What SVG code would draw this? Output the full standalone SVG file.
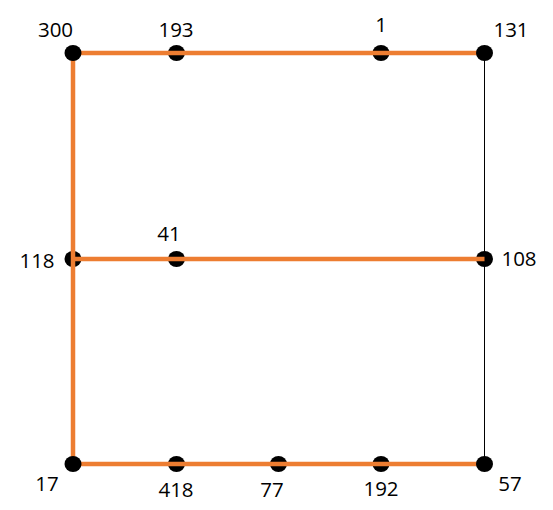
<svg xmlns="http://www.w3.org/2000/svg" width="553" height="510" viewBox="0 0 553 510">
<style>
.n{fill:#000}
.t{font-family:"Open Sans","Liberation Sans",sans-serif;font-size:20.5px;fill:#000;text-anchor:middle}
.o{stroke:#ED7D31;stroke-width:4.5;fill:none}
.k{stroke:#000;stroke-width:1;fill:none}
</style>
<rect width="553" height="510" fill="#fff"/>
<g id="node-193"><ellipse class="n" cx="176.5" cy="53" rx="8.5" ry="8"/><text class="t" x="176" y="37">193</text></g>
<g id="node-1"><ellipse class="n" cx="381" cy="53" rx="8.5" ry="8"/><text class="t" x="381" y="32">1</text></g>
<g id="node-118"><ellipse class="n" cx="73" cy="259" rx="8.5" ry="8"/><text class="t" x="37" y="268">118</text></g>
<g id="node-41"><ellipse class="n" cx="176.5" cy="259" rx="8.5" ry="8"/><text class="t" x="169" y="241">41</text></g>
<g id="node-108"><ellipse class="n" cx="484.5" cy="259" rx="8.5" ry="8"/><text class="t" x="519" y="266">108</text></g>
<g id="node-418"><ellipse class="n" cx="176.5" cy="464" rx="8.5" ry="8"/><text class="t" x="176" y="497">418</text></g>
<g id="node-77"><ellipse class="n" cx="278.5" cy="464" rx="8.5" ry="8"/><text class="t" x="272" y="497">77</text></g>
<g id="node-192"><ellipse class="n" cx="381" cy="464" rx="8.5" ry="8"/><text class="t" x="381" y="496">192</text></g>
<g id="connectors">
<line class="k" x1="484.5" y1="53" x2="484.5" y2="464"/>
<line class="o" x1="73" y1="53" x2="484.5" y2="53"/>
<line class="o" x1="73" y1="53" x2="73" y2="464"/>
<line class="o" x1="73" y1="259" x2="484.5" y2="259"/>
<line class="o" x1="73" y1="464" x2="484.5" y2="464"/>
</g>
<g id="node-300"><ellipse class="n" cx="73" cy="53" rx="8.5" ry="8"/><text class="t" x="55.5" y="37">300</text></g>
<g id="node-131"><ellipse class="n" cx="484.5" cy="53" rx="8.5" ry="8"/><text class="t" x="511" y="37">131</text></g>
<g id="node-17"><ellipse class="n" cx="73" cy="464" rx="8.5" ry="8"/><text class="t" x="47" y="491">17</text></g>
<g id="node-57"><ellipse class="n" cx="484.5" cy="464" rx="8.5" ry="8"/><text class="t" x="510" y="491">57</text></g>
</svg>
